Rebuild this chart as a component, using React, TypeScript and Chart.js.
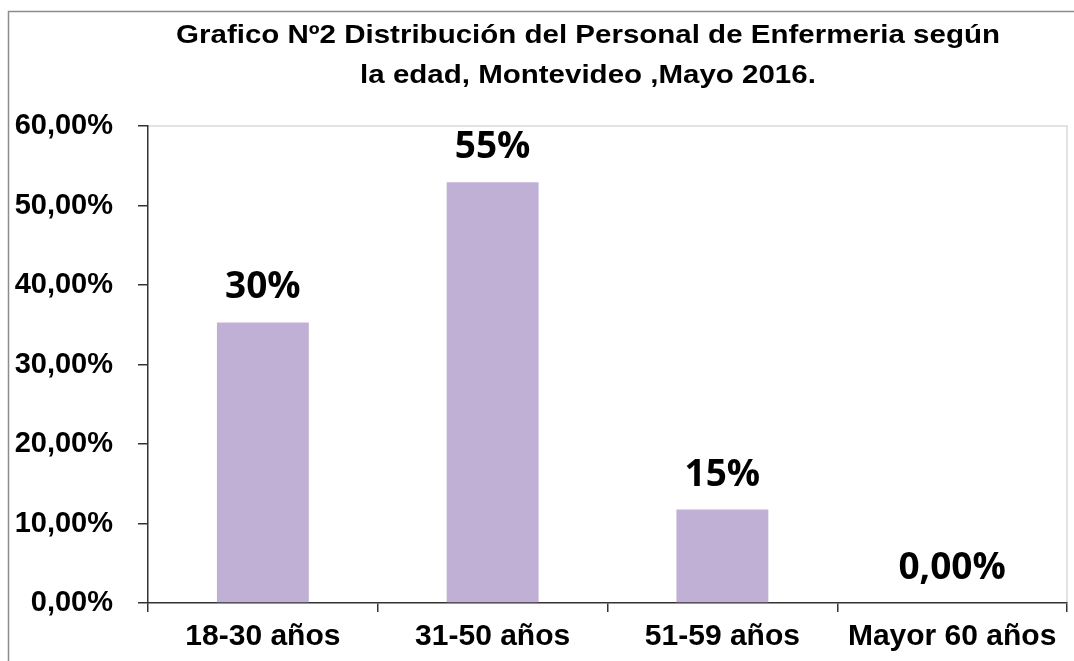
import React, { useEffect, useRef } from "react";
import { Chart, registerables } from "chart.js";

Chart.register(...registerables);

const titleLines = [
  "Grafico Nº2 Distribución del Personal de Enfermeria según",
  "la edad, Montevideo ,Mayo 2016.",
];
const categories = ["18-30 años", "31-50 años", "51-59 años", "Mayor 60 años"];
const values = [0.3529, 0.5294, 0.1176, 0];
const valueLabels = ["30%", "55%", "15%", "0,00%"];
const yMin = 0;
const yMax = 0.6;
const yStep = 0.1;

const AXIS_FONT = "'Liberation Sans', Arial, sans-serif";

const framePlugin = {
  id: "frame",
  beforeDraw(chart: any) {
    const ctx = chart.ctx;
    const { width } = chart;
    ctx.save();
    ctx.fillStyle = "#ffffff";
    ctx.fillRect(0, 0, chart.width, chart.height);
    ctx.strokeStyle = "#8c8c8c";
    ctx.lineWidth = 1.5;
    ctx.beginPath();
    ctx.moveTo(8.5, chart.height);
    ctx.lineTo(8.5, 11.5);
    ctx.lineTo(width, 11.5);
    ctx.stroke();
    // title (slightly widened lettering as in the reference)
    ctx.fillStyle = "#000";
    ctx.font = `bold 25px ${AXIS_FONT}`;
    ctx.textAlign = "center";
    ctx.textBaseline = "alphabetic";
    const baselines = [43, 83];
    titleLines.forEach((line, i) => {
      ctx.save();
      ctx.translate(588, baselines[i]);
      ctx.scale(1.18, 1);
      ctx.fillText(line, 0, 0);
      ctx.restore();
    });
    // plot area border (top, right)
    const a = chart.chartArea;
    ctx.strokeStyle = "#d9d9d9";
    ctx.lineWidth = 1.5;
    ctx.beginPath();
    ctx.moveTo(a.left, a.top);
    ctx.lineTo(a.right, a.top);
    ctx.lineTo(a.right, a.bottom);
    ctx.stroke();
    ctx.restore();
  },
};

const valueLabelPlugin = {
  id: "valueLabels",
  afterDatasetsDraw(chart: any) {
    const ctx = chart.ctx;
    const meta = chart.getDatasetMeta(0);
    ctx.save();
    ctx.fillStyle = "#000";
    ctx.font = "bold 37px 'Open Sans', 'Noto Sans', sans-serif";
    ctx.textAlign = "center";
    ctx.textBaseline = "alphabetic";
    meta.data.forEach((bar: any, i: number) => {
      ctx.fillText(valueLabels[i], bar.x, bar.y - 24);
    });
    ctx.restore();
  },
};

export default function App() {
  const ref = useRef<HTMLCanvasElement>(null);
  useEffect(() => {
    if (!ref.current) return;
    const chart = new Chart(ref.current, {
      type: "bar",
      data: {
        labels: categories,
        datasets: [
          {
            data: values,
            backgroundColor: "#c1b0d6",
            borderWidth: 0,
            categoryPercentage: 1,
            barPercentage: 0.4,
          },
        ],
      },
      options: {
        animation: false,
        responsive: true,
        maintainAspectRatio: false,
        layout: { padding: { top: 126, right: 7, left: 0, bottom: 0 } },
        plugins: {
          legend: { display: false },
          tooltip: { enabled: false },
          title: { display: false },
        },
        scales: {
          x: {
            offset: true,
            grid: {
              offset: true,
              drawOnChartArea: false,
              drawTicks: true,
              tickLength: 9,
              tickColor: "#333",
              lineWidth: 1.5,
            },
            border: { display: true, color: "#333", width: 1.5 },
            ticks: {
              color: "#000",
              font: { family: AXIS_FONT, size: 30, weight: "bold" },
              padding: 7,
              maxRotation: 0,
              autoSkip: false,
            },
            afterFit(scale: any) {
              scale.height = 58;
            },
          },
          y: {
            min: yMin,
            max: yMax,
            grid: {
              drawOnChartArea: false,
              drawTicks: true,
              tickLength: 10,
              tickColor: "#333",
              lineWidth: 1.5,
            },
            border: { display: true, color: "#333", width: 1.5 },
            ticks: {
              stepSize: yStep,
              color: "#000",
              font: { family: AXIS_FONT, size: 29, weight: "bold" },
              padding: 25,
              callback: (v: any) =>
                (Number(v) * 100).toFixed(2).replace(".", ",") + "%",
            },
            afterFit(scale: any) {
              scale.width = 148;
            },
          },
        },
      },
      plugins: [framePlugin, valueLabelPlugin],
    });
    return () => chart.destroy();
  }, []);
  return (
    <div style={{ position: "absolute", left: 0, top: 0, width: 1074, height: 661 }}>
      <canvas ref={ref} />
    </div>
  );
}
